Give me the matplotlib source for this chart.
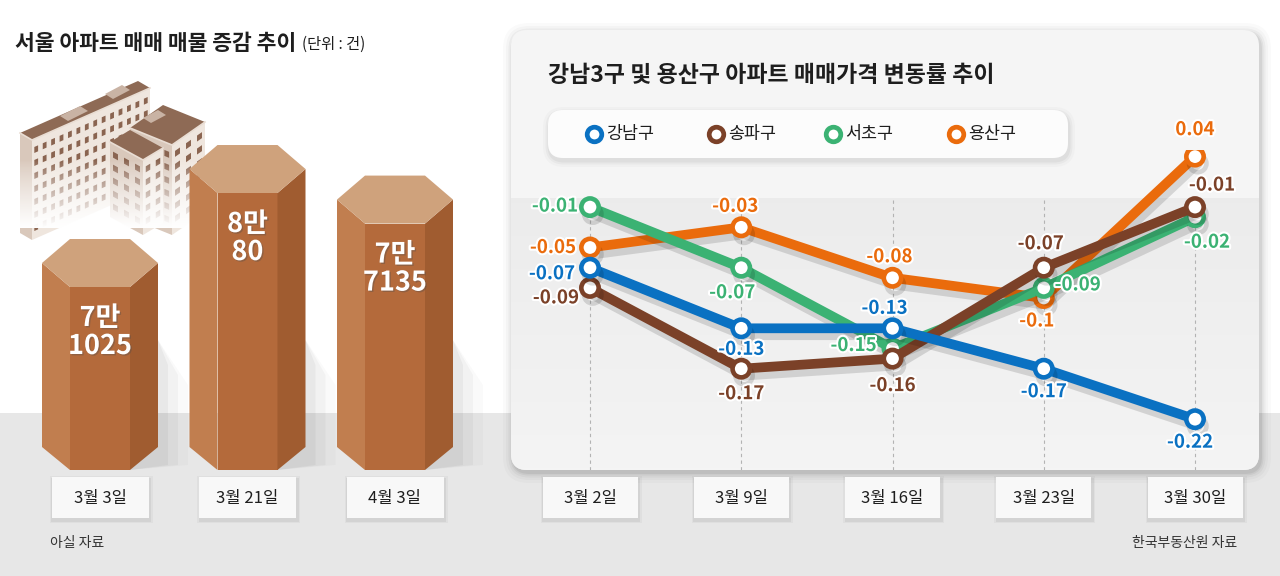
import numpy as np
import matplotlib
matplotlib.use('Agg')
import matplotlib.pyplot as plt
from matplotlib.patches import Polygon, FancyBboxPatch, Rectangle
import matplotlib.patheffects as pe

plt.rcParams['font.family'] = ['Noto Sans CJK KR', 'DejaVu Sans']

# ---------------- data ----------------
stock_dates = ['3월 3일', '3월 21일', '4월 3일']
stock_counts = [71025, 80080, 77135]

week_dates = ['3월 2일', '3월 9일', '3월 16일', '3월 23일', '3월 30일']
district_names = ['강남구', '송파구', '서초구', '용산구']
gangnam = [-0.07, -0.13, -0.13, -0.17, -0.22]
songpa = [-0.09, -0.17, -0.16, -0.07, -0.01]
seocho = [-0.01, -0.07, -0.15, -0.09, -0.02]
yongsan = [-0.05, -0.03, -0.08, -0.10, 0.04]

# ---------------- layout / styles ----------------
W, H = 1280, 576
fig = plt.figure(figsize=(12.8, 5.76), dpi=100)
fig.patch.set_facecolor('white')


def axes_px(x0, y0, x1, y1):
    a = fig.add_axes([x0 / W, 1 - y1 / H, (x1 - x0) / W, (y1 - y0) / H])
    a.patch.set_visible(False)
    a.axis('off')
    return a


bg = axes_px(0, 0, W, H)

# gray ground band
bg.add_patch(Rectangle((0, 413), W, H - 413, fc='#e7e7e7', ec='none', zorder=0))

# ---- decorative buildings ----
def poly(pts, fc, z=2):
    bg.add_patch(Polygon(pts, closed=True, fc=fc, ec='none', zorder=z))


def facade_windows(P, Q, cols, rows, fc, z=2.5, top=8, gap=13, wfrac=0.45, h=6):
    P = np.array(P, float); Q = np.array(Q, float)
    for r in range(rows):
        d0 = top + r * gap
        for c in range(cols):
            u0 = (c + 0.5 - wfrac / 2) / cols
            u1 = (c + 0.5 + wfrac / 2) / cols
            a = P + u0 * (Q - P) + [0, d0]
            b = P + u1 * (Q - P) + [0, d0]
            poly([a, b, b + [0, h], a + [0, h]], fc, z)


def box(L, F, R, hgt, roof, left, right, z):
    L, F, R = np.array(L, float), np.array(F, float), np.array(R, float)
    Bk = L + R - F
    down = np.array([0, hgt])
    poly([L, F, F + down, L + down], left, z)
    poly([F, R, R + down, F + down], right, z)
    poly([L, Bk, R, F], roof, z + 0.2)
    bg.plot([L[0], F[0], R[0]], [L[1], F[1], R[1]], color='#e9ddd3', lw=1.2, zorder=z + 0.3)
    return L, F, R


roofc, leftc, rightc, winc = '#8e6a55', '#d9c8bb', '#efe6de', '#8a6450'
L, F, R = box((20, 133), (32, 140), (150, 88), 100, roofc, leftc, rightc, 2)
facade_windows(F, R, 14, 7, winc, z=2.5)
poly([(60, 116), (80, 106), (88, 111), (68, 121)], '#c9b3a4', 2.4)
poly([(105, 94), (122, 85), (130, 90), (113, 99)], '#c9b3a4', 2.4)
L, F, R = box((130, 128), (172, 145), (205, 122), 90, roofc, leftc, rightc, 3)
facade_windows(L, F, 4, 6, winc, z=3.5)
facade_windows(F, R, 3, 6, winc, z=3.5)
poly([(143, 118), (158, 110), (166, 115), (151, 123)], '#c9b3a4', 3.4)
L, F, R = box((110, 142), (143, 160), (163, 148), 75, roofc, leftc, rightc, 4)
facade_windows(L, F, 3, 5, winc, z=4.5)
facade_windows(F, R, 2, 5, winc, z=4.5)
fade = np.ones((100, 2, 4))
fade[:, :, 3] = np.linspace(0, 1, 100)[:, None] ** 0.8
bg.imshow(fade, extent=(10, 215, 228, 160), aspect='auto', zorder=6, interpolation='bilinear')

# ---- titles ----
t1 = bg.text(15, 43, '서울 아파트 매매 매물 증감 추이', fontsize=15.5, fontweight='bold',
             color='#1e1e1e', va='center', ha='left', zorder=10)
bg.annotate('(단위 : 건)', xy=(1, 0.45), xycoords=t1, xytext=(6, 0), textcoords='offset pixels',
            fontsize=11, color='#1e1e1e', va='center', ha='left', zorder=10)

# ---- right panel ----
px0, py0, pw, ph = 511, 30, 748, 440
for pad, a in [(10, 0.02), (7, 0.025), (4.5, 0.035), (2.5, 0.045), (1, 0.055)]:
    bg.add_patch(FancyBboxPatch((px0 - pad + 2, py0 - pad + 3), pw + 2 * pad, ph + 2 * pad,
                                boxstyle=f'round,pad=0,rounding_size={16 + pad}',
                                fc='black', ec='none', alpha=a, zorder=7))
panel = FancyBboxPatch((px0, py0), pw, ph, boxstyle='round,pad=0,rounding_size=16',
                       fc='#f5f5f5', ec='none', zorder=8)
bg.add_patch(panel)
grad = np.linspace(0, 1, 120)
c_top = np.array([0.925, 0.925, 0.925]); c_bot = np.array([0.957, 0.957, 0.957])
garr = (c_top[None, :] * (1 - grad[:, None]) + c_bot[None, :] * grad[:, None])[:, None, :]
garr = np.repeat(garr, 2, axis=1)
gim = bg.imshow(garr, extent=(px0, px0 + pw, py0 + ph, 198), aspect='auto', zorder=8.5,
                interpolation='bilinear')
gim.set_clip_path(panel)

bg.text(548, 76, '강남3구 및 용산구 아파트 매매가격 변동률 추이', fontsize=16.5, fontweight='bold',
        color='#1e1e1e', va='center', ha='left', zorder=10)

# legend box
for pad, a in [(6, 0.02), (3.5, 0.03), (1.5, 0.04)]:
    bg.add_patch(FancyBboxPatch((548 - pad + 1, 110 - pad + 3), 520 + 2 * pad, 48 + 2 * pad,
                                boxstyle=f'round,pad=0,rounding_size={15 + pad}',
                                fc='black', ec='none', alpha=a, zorder=9))
bg.add_patch(FancyBboxPatch((548, 110), 520, 48, boxstyle='round,pad=0,rounding_size=15',
                            fc='#fcfcfc', ec='none', zorder=9.5))

colors = {'강남구': '#0a71c2', '송파구': '#7b4128', '서초구': '#3bb273', '용산구': '#ea6b0c'}
leg_x = [594, 716, 833, 956]
for name, lx in zip(district_names, leg_x):
    bg.plot([lx], [134], 'o', ms=10.5, mfc='white', mec=colors[name], mew=3.4, zorder=10)
    bg.text(lx + 12, 134, name, fontsize=12.5, color='#1e1e1e', va='center', ha='left', zorder=10)

# ---------------- left: hexagonal prism bars ----------------
bar_centers_px = [100 + 147.5 * i for i in range(len(stock_counts))]
ax_bar = axes_px(0, 100, 500, 470)
xl0, xl1 = -100 / 147.5, 400 / 147.5
yb0, yb1 = 48771, 84417
ax_bar.set_xlim(xl0, xl1)
ax_bar.set_ylim(yb0, yb1)
ux = (xl1 - xl0) / 500
uy = (yb1 - yb0) / 370

top_c, left_c, front_c, right_c = '#cfa27c', '#c17e4f', '#b46a3b', '#a05c30'
for i, v in enumerate(stock_counts):
    half, ins = 58 * ux, 30 * ux
    d1, d2, tp = 24 * uy, 48 * uy, 23 * uy
    base = yb0
    for k, a in [(30, 0.02), (20, 0.03), (10, 0.04)]:
        ax_bar.add_patch(Polygon([(i + half, base + 130 * uy), (i + half + k * ux, base + (115 - k) * uy),
                                  (i + half + k * ux, base + 5 * uy), (i + ins, base)],
                                 fc='black', alpha=a, ec='none', zorder=1))
    ax_bar.add_patch(Polygon([(i - half, v - d1), (i - ins, v - d2), (i - ins, base), (i - half, base + tp)],
                             fc=left_c, ec='none', zorder=2))
    ax_bar.add_patch(Polygon([(i - ins, v - d2), (i + ins, v - d2), (i + ins, base), (i - ins, base)],
                             fc=front_c, ec='none', zorder=2))
    ax_bar.add_patch(Polygon([(i + ins, v - d2), (i + half, v - d1), (i + half, base + tp), (i + ins, base)],
                             fc=right_c, ec='none', zorder=2))
    ax_bar.add_patch(Polygon([(i - half, v - d1), (i - ins, v), (i + ins, v), (i + half, v - d1),
                              (i + ins, v - d2), (i - ins, v - d2)], fc=top_c, ec='none', zorder=3))
    ax_bar.text(i, v - 93 * uy, f'{v // 10000}만\n{v % 10000}', ha='center', va='center',
                fontsize=19.5, fontweight='bold', color='white', linespacing=1.0, zorder=4,
                path_effects=[pe.SimplePatchShadow(offset=(1, -1), alpha=0.35), pe.Normal()])


def date_box(cx, label, w):
    for pad, a in [(3, 0.03), (1.5, 0.05)]:
        bg.add_patch(Rectangle((cx - w / 2 - pad + 1, 477 - pad + 2), w + 2 * pad, 41 + 2 * pad,
                               fc='black', alpha=a, ec='none', zorder=9))
    bg.add_patch(Rectangle((cx - w / 2, 477), w, 41, fc='#f8f8f8', ec='none', zorder=9.5))
    bg.text(cx, 498, label, fontsize=12, color='#1e1e1e', ha='center', va='center', zorder=10)


for cx, lab in zip(bar_centers_px, stock_dates):
    date_box(cx, lab, 97)

# ---------------- right: line chart ----------------
ax_line = axes_px(510, 150, 1260, 470)
ax_line.set_zorder(5)
step = 151.25
ax_line.set_xlim(-80 / step, 670 / step)
ax_line.set_ylim((197 - 470) / 1010, (197 - 150) / 1010)
xs = np.arange(len(week_dates))
for x in xs:
    ax_line.axvline(x, ymin=0, ymax=(470 - 198) / 320, color='#b3b3b3', lw=0.8,
                    ls=(0, (3, 3)), zorder=1)

series = [('용산구', yongsan, 2), ('서초구', seocho, 3), ('송파구', songpa, 4), ('강남구', gangnam, 5)]
offsets = {
    '강남구': [(-38, -6), (0, -21), (-8, 20), (0, -23), (-5, -23)],
    '송파구': [(-34, -10), (0, -25), (0, -27), (-3, 24), (17, 22)],
    '서초구': [(-35, 1), (-9, -25), (-39, 3), (34, 3), (12, -25)],
    '용산구': [(-37, 0), (-6, 21), (-3, 21), (-7, -23), (0, 27)],
}
for name, vals, z in series:
    c = colors[name]
    ax_line.plot(xs, vals, color=c, lw=7, marker='o', ms=12.5, mfc='white', mec=c, mew=3.3,
                 solid_capstyle='round', solid_joinstyle='round', zorder=z,
                 path_effects=[pe.SimpleLineShadow(offset=(2, -5), shadow_color='black', alpha=0.13),
                               pe.Normal()])
for name, vals, z in series:
    c = colors[name]
    for x, v, (dx, dy) in zip(xs, vals, offsets[name]):
        ax_line.annotate(f'{v:g}', xy=(x, v), xytext=(dx, dy), textcoords='offset pixels',
                         ha='center', va='center', fontsize=13.5, fontweight='bold', color=c,
                         zorder=10, annotation_clip=False,
                         path_effects=[pe.withStroke(linewidth=3, foreground='white')])

for i, lab in enumerate(week_dates):
    date_box(590 + step * i, lab, 95)

# sources
bg.text(50, 543, '아실 자료', fontsize=10, color='#333333', va='center', ha='left', zorder=10)
bg.text(1237, 543, '한국부동산원 자료', fontsize=10, color='#333333', va='center', ha='right', zorder=10)

bg.set_xlim(0, W)
bg.set_ylim(H, 0)

fig.savefig('out.png', dpi=100)
